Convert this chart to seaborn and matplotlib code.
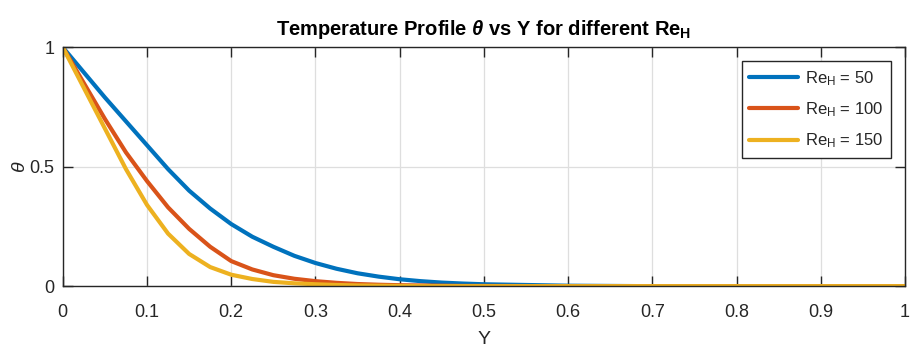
import numpy as np
import pandas as pd
import matplotlib
matplotlib.use("Agg")
import matplotlib.pyplot as plt
import seaborn as sns

# ---- data ----
y_pos = [0, 0.025, 0.05, 0.075, 0.1, 0.125, 0.15, 0.175, 0.2, 0.225, 0.25,
         0.275, 0.3, 0.325, 0.35, 0.375, 0.4, 0.425, 0.45, 0.475, 0.5,
         0.6, 0.7, 0.8, 0.9, 1.0]
theta_re50 = [1, 0.895, 0.79, 0.69, 0.59, 0.49, 0.40, 0.325, 0.26, 0.207, 0.165,
              0.127, 0.097, 0.073, 0.054, 0.040, 0.029, 0.021, 0.015, 0.011, 0.008,
              0.002, 0, 0, 0, 0]
theta_re100 = [1, 0.85, 0.70, 0.56, 0.44, 0.33, 0.24, 0.165, 0.105, 0.07, 0.046,
               0.031, 0.021, 0.014, 0.009, 0.006, 0.004, 0.003, 0.002, 0.001, 0.001,
               0, 0, 0, 0, 0]
theta_re150 = [1, 0.83, 0.66, 0.49, 0.34, 0.22, 0.135, 0.08, 0.048, 0.03, 0.018,
               0.012, 0.008, 0.005, 0.003, 0.002, 0.001, 0, 0, 0, 0,
               0, 0, 0, 0, 0]
series_labels = [r"Re$_\mathrm{H}$ = 50", r"Re$_\mathrm{H}$ = 100",
                 r"Re$_\mathrm{H}$ = 150"]
colors = ["#0072BD", "#D95319", "#EDB120"]
x_ticks = [0, 0.1, 0.2, 0.3, 0.4, 0.5, 0.6, 0.7, 0.8, 0.9, 1.0]
x_tick_labels = ["0", "0.1", "0.2", "0.3", "0.4", "0.5", "0.6", "0.7", "0.8", "0.9", "1"]
y_ticks = [0, 0.5, 1]
y_tick_labels = ["0", "0.5", "1"]

df = pd.concat([
    pd.DataFrame({"Y": y_pos, "theta": vals, "series": lab})
    for vals, lab in zip([theta_re50, theta_re100, theta_re150], series_labels)
], ignore_index=True)

sns.set_theme(style="white")
plt.rcParams["font.family"] = ["Liberation Sans", "DejaVu Sans"]
plt.rcParams["mathtext.fontset"] = "custom"
plt.rcParams["mathtext.rm"] = "Liberation Sans"
plt.rcParams["mathtext.it"] = "Liberation Sans:italic"
plt.rcParams["mathtext.bf"] = "Liberation Sans:bold"
plt.rcParams["mathtext.sf"] = "Liberation Sans:italic:bold"

dark = "#262626"
fig = plt.figure(figsize=(9.1, 3.49), dpi=100)
ax = fig.add_axes([0.069, 0.18, 0.9255, 0.6845])

sns.lineplot(data=df, x="Y", y="theta", hue="series", palette=colors,
             hue_order=series_labels, linewidth=3.0, ax=ax, legend=False,
             estimator=None, sort=False)

ax.set_xlim(0, 1)
ax.set_ylim(0, 1)
ax.set_xticks(x_ticks)
ax.set_xticklabels(x_tick_labels)
ax.set_yticks(y_ticks)
ax.set_yticklabels(y_tick_labels)
ax.grid(True, color="#dedede", linewidth=0.9)
ax.set_axisbelow(True)
for s in ax.spines.values():
    s.set_visible(True)
    s.set_color(dark)
    s.set_linewidth(1.0)
ax.tick_params(direction="in", length=7, width=1.0, color=dark,
               labelcolor=dark, labelsize=13, top=True, right=True,
               bottom=True, left=True)
ax.tick_params(axis="x", pad=13)
ax.tick_params(axis="y", pad=6)

ax.set_xlabel("Y", fontsize=14, color=dark, labelpad=7)
ax.set_ylabel(r"$\theta$", fontsize=14, color=dark, labelpad=0)
ax.set_title(r"Temperature Profile $\mathsf{\theta}$ vs Y for different Re$_\mathbf{H}$",
             fontsize=14.5, fontweight="bold", color="black", pad=9)

handles = [plt.Line2D([], [], color=c, linewidth=3.0) for c in colors]
leg = ax.legend(handles, series_labels, loc="upper right", fontsize=12,
                handlelength=2.9, frameon=True, fancybox=False,
                edgecolor=dark, framealpha=1, borderaxespad=0.85,
                labelspacing=0.75, handletextpad=0.45, borderpad=0.45)
leg.get_frame().set_linewidth(1.0)

fig.savefig("out.png", dpi=100)
